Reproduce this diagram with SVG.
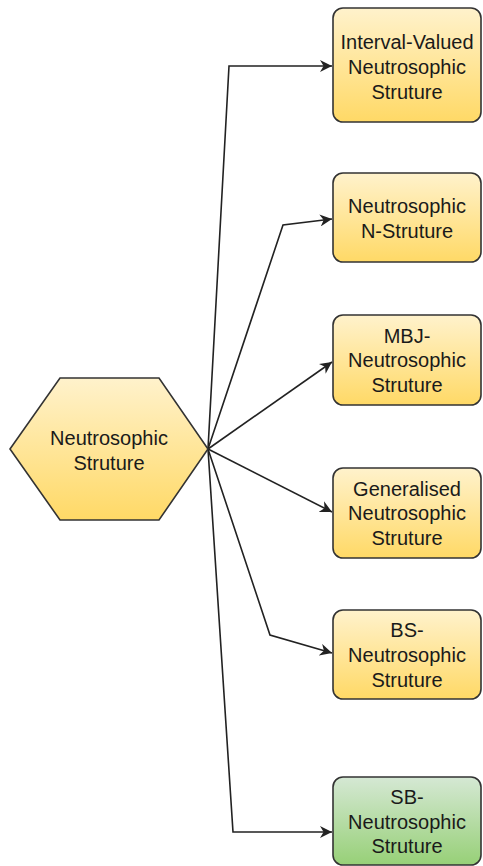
<svg xmlns="http://www.w3.org/2000/svg" width="483" height="866" viewBox="0 0 483 866">
<defs>
<linearGradient id="gy" x1="0" y1="0" x2="0" y2="1"><stop offset="0" stop-color="#fff2cc"/><stop offset="1" stop-color="#ffd966"/></linearGradient>
<linearGradient id="gg" x1="0" y1="0" x2="0" y2="1"><stop offset="0" stop-color="#d5e8d4"/><stop offset="1" stop-color="#97d077"/></linearGradient>
<marker id="ah" viewBox="0 0 10 10" refX="10" refY="5" markerWidth="12" markerHeight="12" markerUnits="userSpaceOnUse" orient="auto"><path d="M0,0 L10,5 L0,10 L3,5 Z" fill="#222"/></marker>
<style>
.box{stroke:#333;stroke-width:1.6}
.y{fill:url(#gy)}
.g{fill:url(#gg)}
.t{font-family:"Liberation Sans",Arial,sans-serif;font-size:20px;fill:#1a1a1a;text-anchor:middle}
.c{fill:none;stroke:#222;stroke-width:1.6;marker-end:url(#ah)}
</style>
</defs>
<g id="connectors">
<polyline class="c" points="208,449 229,66 332,66"/>
<polyline class="c" points="208,449 283,225 332,219"/>
<polyline class="c" points="208,449 332,362"/>
<polyline class="c" points="208,449 332,512"/>
<polyline class="c" points="208,449 270,635 332,653"/>
<polyline class="c" points="208,449 233,832 332,832"/>
</g>
<g id="hex">
<polygon class="box y" points="10,449 60,378 159,378 208,449 159,520 60,520"/>
<text class="t" x="109" y="445">Neutrosophic</text>
<text class="t" x="109" y="470">Struture</text>
</g>
<g id="n1">
<rect class="box y" x="333" y="8" width="148" height="114" rx="10"/>
<text class="t" x="407" y="49">Interval-Valued</text>
<text class="t" x="407" y="74">Neutrosophic</text>
<text class="t" x="407" y="99">Struture</text>
</g>
<g id="n2">
<rect class="box y" x="333" y="173" width="148" height="89" rx="10"/>
<text class="t" x="407" y="213">Neutrosophic</text>
<text class="t" x="407" y="238">N-Struture</text>
</g>
<g id="n3">
<rect class="box y" x="333" y="315" width="148" height="90" rx="10"/>
<text class="t" x="407" y="343">MBJ-</text>
<text class="t" x="407" y="367">Neutrosophic</text>
<text class="t" x="407" y="392">Struture</text>
</g>
<g id="n4">
<rect class="box y" x="333" y="468" width="148" height="90" rx="10"/>
<text class="t" x="407" y="496">Generalised</text>
<text class="t" x="407" y="520">Neutrosophic</text>
<text class="t" x="407" y="545">Struture</text>
</g>
<g id="n5">
<rect class="box y" x="333" y="610" width="148" height="89" rx="10"/>
<text class="t" x="407" y="637">BS-</text>
<text class="t" x="407" y="662">Neutrosophic</text>
<text class="t" x="407" y="687">Struture</text>
</g>
<g id="n6">
<rect class="box g" x="333" y="777" width="148" height="88" rx="10"/>
<text class="t" x="407" y="804">SB-</text>
<text class="t" x="407" y="829">Neutrosophic</text>
<text class="t" x="407" y="853">Struture</text>
</g>
</svg>
